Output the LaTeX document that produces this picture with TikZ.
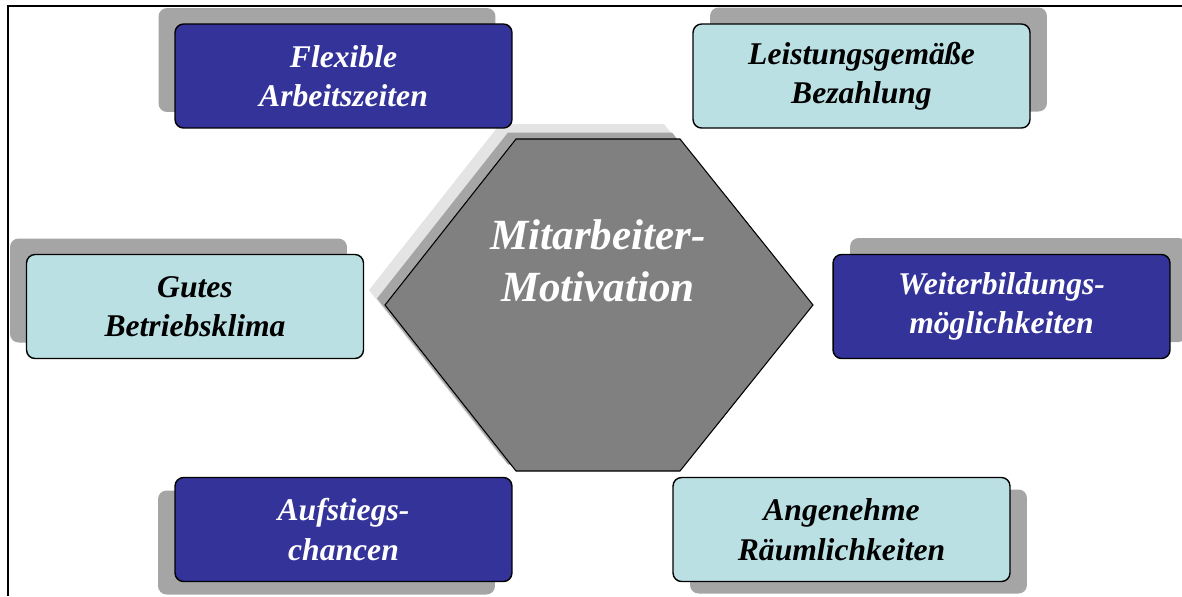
\documentclass[tikz,border=0pt]{standalone}
\usepackage{fontspec}
\setmainfont{Liberation Serif}
\usetikzlibrary{shadows,positioning,calc}

\definecolor{darkbox}{RGB}{51,51,153}
\definecolor{lightbox}{RGB}{187,224,227}
\definecolor{hexgray}{RGB}{128,128,128}
\definecolor{shadowgray}{RGB}{165,165,165}
\definecolor{shadowlight}{RGB}{228,228,228}

\begin{document}
\begin{tikzpicture}[x=0.02cm, y=-0.02cm]

\tikzstyle{block} = [rectangle, draw, line width = 0.8pt, rounded corners = 0.17cm, minimum width = 6.74cm, minimum height = 2.08cm, align = center, font = \fontsize{18}{22.5}\selectfont\bfseries\itshape]

\tikzstyle{dark_block} = [block, fill = darkbox, text = white]

\tikzstyle{light_block} = [block, fill = lightbox, text = black]

\tikzstyle{shadow_nw} = [drop shadow = {shadow xshift = -0.33cm, shadow yshift = 0.32cm, fill = shadowgray, opacity = 1}]
\tikzstyle{shadow_ne} = [drop shadow = {shadow xshift = 0.34cm, shadow yshift = 0.33cm, fill = shadowgray, opacity = 1}]
\tikzstyle{shadow_sw} = [drop shadow = {shadow xshift = -0.34cm, shadow yshift = -0.26cm, fill = shadowgray, opacity = 1}]
\tikzstyle{shadow_se} = [drop shadow = {shadow xshift = 0.34cm, shadow yshift = -0.24cm, fill = shadowgray, opacity = 1}]

\tikzstyle{hub_text} = [align = center, text = white, font = \fontsize{24.5}{29.5}\selectfont\bfseries\itshape]

\useasboundingbox (0,0) rectangle (1182,596);

% frame
\draw[line width = 1.3pt] (8,596) -- (8,6) -- (1182,6);

% centre hexagon
\coordinate (hub) at (598,305);
\draw[fill = hexgray, line width = 0.6pt,
      drop shadow = {shadow xshift = -0.32cm, shadow yshift = 0.3cm, fill = shadowlight, opacity = 1},
      drop shadow = {shadow xshift = -0.16cm, shadow yshift = 0.13cm, fill = shadowgray, opacity = 1}]
  ($(hub)+(-82,-166)$) -- ($(hub)+(82,-166)$) -- ($(hub)+(215,0)$) -- ($(hub)+(82,166)$) -- ($(hub)+(-82,166)$) -- ($(hub)+(-213,0)$) -- cycle;
\node [hub_text] (motivation) at ($(hub)+(0,-44)$) {Mitarbeiter-\\Motivation};

% top row
\node [dark_block, shadow_nw] (flex) at (343.5,76) {Flexible\\Arbeitszeiten};
\node [light_block, shadow_ne] (pay) at (861.5,76) {Leistungsgemäße\\Bezahlung};

% middle row
\node [light_block, shadow_nw] (climate) at (195,306.5) {Gutes\\Betriebsklima};
\node [dark_block, shadow_ne] (training) at (1001.5,306.5) {Weiterbildungs-\\möglichkeiten};

% bottom row
\node [dark_block, shadow_sw] (career) at (343.5,529.5) {Aufstiegs-\\chancen};
\node [light_block, shadow_se] (rooms) at (841.5,529.5) {Angenehme\\Räumlichkeiten};

\end{tikzpicture}
\end{document}
